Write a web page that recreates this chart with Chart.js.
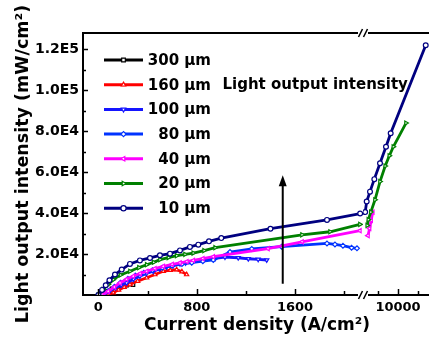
<!DOCTYPE html>
<html><head><meta charset="utf-8">
<script src="https://cdn.jsdelivr.net/npm/chart.js@4/dist/chart.umd.min.js"></script>
<style>html,body{margin:0;padding:0;background:#fff;}canvas{display:block;}</style>
</head><body>
<canvas id="c" width="429" height="344"></canvas>
<script>
// ---- data (A/cm², mW/cm²) ----
const seriesLabels = ['300 µm', '160 µm', '100 µm', '80 µm', '40 µm', '20 µm', '10 µm'];

const x300 = [30, 70, 110, 150, 190, 230, 282];
const y300 = [0, 1800, 3000, 3800, 4400, 4800, 5000];

const x160 = [40, 80, 121, 165, 210, 257, 320, 393, 460, 528, 585, 637, 680, 718];
const y160 = [0, 600, 1100, 2500, 3800, 5100, 6800, 8400, 10000, 11600, 12100, 12400, 11400, 10000];

const x100 = [40, 90, 140, 185, 230, 285, 338, 390, 447, 500, 555, 610, 664, 710, 759, 850, 950, 1030, 1138, 1220, 1300, 1370];
const y100 = [0, 1800, 3600, 4800, 5900, 7700, 9200, 10500, 11600, 12700, 13700, 14500, 15200, 15700, 16200, 17000, 17900, 18500, 18200, 17700, 17400, 17100];

const x80 = [30, 80, 130, 180, 240, 300, 370, 440, 520, 600, 680, 760, 850, 935, 1071, 1248, 1491, 1860, 1925, 1990, 2060, 2104];
const y80 = [0, 1900, 4000, 6000, 7900, 9500, 10900, 12100, 13300, 14300, 15100, 15800, 16500, 17100, 21000, 22500, 23600, 25200, 24700, 24100, 23100, 22800];

const x40 = [30, 80, 130, 176, 230, 284, 340, 393, 460, 528, 600, 664, 720, 772, 850, 935, 1380, 1657, 2128];
const y40 = [0, 1800, 3900, 5900, 7700, 9200, 10500, 11600, 12900, 14000, 15000, 15700, 16300, 16900, 17800, 18700, 22600, 26000, 31400];

const x20 = [0, 40, 80, 121, 180, 257, 330, 393, 450, 501, 570, 637, 705, 772, 860, 950, 1657, 1885, 2128];
const y20 = [0, 2700, 5200, 7500, 9800, 11600, 13400, 14800, 16000, 17300, 18300, 19200, 19900, 20500, 21700, 23100, 29400, 30900, 34500];

const x10 = [0, 30, 60, 90, 135, 190, 257, 338, 420, 501, 583, 664, 745, 813, 900, 1000, 1400, 1860, 2130];
const y10 = [0, 2500, 4800, 7200, 10000, 12400, 15200, 16900, 18100, 19400, 20200, 21800, 23500, 24600, 26200, 27800, 32400, 36700, 39800];

// high-current segment (after the axis break)
const x40r = [9250, 9290, 9330, 9370];
const y40r = [29000, 32500, 36500, 40500];

const x20r = [9230, 9258, 9320, 9425, 9550, 9680, 9783, 9883, 10200];
const y20r = [34000, 36800, 40500, 46500, 55400, 63000, 68000, 72400, 84000];

const x10r = [9180, 9217, 9300, 9408, 9550, 9700, 9817, 10693];
const y10r = [40500, 45700, 50500, 56600, 64400, 72400, 79000, 122000];

// ticks
const xTicksLeft = [0, 400, 800, 1200, 1600, 2000];
const xTickLabelsLeft = ['0', '', '800', '', '1600', ''];
const xTicksRight = [9500, 10000, 10500];
const xTickLabelsRight = ['', '10000', ''];
const yTicks = [10000, 20000, 30000, 40000, 50000, 60000, 70000, 80000, 90000, 100000, 110000, 120000];
const yTickLabels = ['', '2.0E4', '', '4.0E4', '', '6.0E4', '', '8.0E4', '', '1.0E5', '', '1.2E5'];

const annotationText = 'Light output intensity';
const xTitle = 'Current density (A/cm²)';
const yTitle = 'Light output intensity (mW/cm²)';

// ---- styles ----
const colors = ['#000000', '#ff0000', '#1515ff', '#0033ff', '#ff00ff', '#008000', '#000080'];
const pStyles = ['rect', 'triangle', 'triangle', 'rectRot', 'triangle', 'triangle', 'circle'];
const pRot = [0, 0, 180, 0, 270, 90, 0];
const FONT = 'DejaVu Sans';

const pts = (xs, ys) => xs.map((x, i) => ({x: x, y: ys[i]}));
function ds(i, xs, ys, axis) {
  return {
    label: seriesLabels[i], data: pts(xs, ys), xAxisID: axis, yAxisID: 'y',
    borderColor: colors[i], borderWidth: 2.8, tension: 0,
    pointStyle: pStyles[i], pointRotation: pRot[i], pointRadius: 2.4,
    pointBorderWidth: 1.2, pointBorderColor: colors[i], pointBackgroundColor: '#ffffff',
    order: 20 - i, fill: false
  };
}
const leftX = [x300, x160, x100, x80, x40, x20, x10];
const leftY = [y300, y160, y100, y80, y40, y20, y10];
const datasets = leftX.map((xs, i) => ds(i, xs, leftY[i], 'x'));
datasets.push(ds(4, x40r, y40r, 'x2'));
datasets.push(ds(5, x20r, y20r, 'x2'));
datasets.push(ds(6, x10r, y10r, 'x2'));

function tickCfg(vals, labels) {
  return {
    afterBuildTicks: (s) => { s.ticks = vals.map(v => ({value: v})); },
    ticks: {
      autoSkip: false, maxRotation: 0, padding: 5, color: '#000',
      font: {family: FONT, size: 13, weight: 'bold'},
      callback: (v) => { const k = vals.indexOf(v); return k >= 0 ? labels[k] : ''; }
    }
  };
}

const decor = {
  id: 'decor',
  afterDraw(chart) {
    const ctx = chart.ctx, ca = chart.chartArea;
    const sx = chart.scales.x, sx2 = chart.scales.x2, sy = chart.scales.y;
    const bottom = Math.round(ca.bottom), top = Math.round(ca.top), left = Math.round(ca.left);
    ctx.save();
    ctx.strokeStyle = '#000'; ctx.fillStyle = '#000';
    // top frame line
    ctx.lineWidth = 2;
    ctx.beginPath(); ctx.moveTo(left - 1, top); ctx.lineTo(ca.right, top); ctx.stroke();
    // inward ticks
    ctx.lineWidth = 1.5;
    [[sx, xTicksLeft, xTickLabelsLeft], [sx2, xTicksRight, xTickLabelsRight]].forEach(([s, vals, labs]) => {
      vals.forEach((v, i) => {
        const p = Math.round(s.getPixelForValue(v)) + 0.5;
        const len = labs[i] ? 6 : 4;
        ctx.beginPath(); ctx.moveTo(p, bottom); ctx.lineTo(p, bottom - len); ctx.stroke();
      });
    });
    yTicks.forEach((v, i) => {
      const p = Math.round(sy.getPixelForValue(v)) + 0.5;
      const len = yTickLabels[i] ? 5 : 3;
      ctx.beginPath(); ctx.moveTo(left, p); ctx.lineTo(left + len, p); ctx.stroke();
    });
    // axis breaks
    const bx = sx.right;
    [bottom, top].forEach(yy => {
      ctx.fillStyle = '#fff';
      ctx.fillRect(bx - 5, yy - 1.5, 10, 3);
      ctx.strokeStyle = '#000'; ctx.lineWidth = 1.6;
      [-2.5, 2.5].forEach(d => {
        ctx.beginPath(); ctx.moveTo(bx + d - 2, yy + 4); ctx.lineTo(bx + d + 2, yy - 4); ctx.stroke();
      });
    });
    // arrow
    const ax = sx.getPixelForValue(1500);
    const ay0 = sy.getPixelForValue(5500), ay1 = sy.getPixelForValue(58500);
    ctx.strokeStyle = '#000'; ctx.fillStyle = '#000'; ctx.lineWidth = 2;
    ctx.beginPath(); ctx.moveTo(ax, ay0); ctx.lineTo(ax, ay1 + 8); ctx.stroke();
    ctx.beginPath(); ctx.moveTo(ax, ay1); ctx.lineTo(ax - 4, ay1 + 11); ctx.lineTo(ax + 4, ay1 + 11); ctx.closePath(); ctx.fill();
    // annotation text
    ctx.font = 'bold 15px "' + FONT + '"';
    ctx.textAlign = 'left'; ctx.textBaseline = 'alphabetic';
    ctx.fillText(annotationText, sx.getPixelForValue(1010), sy.getPixelForValue(100500));
    // legend
    const lx0 = 104, lx1 = 143, ly0 = 60, dy = 24.7;
    seriesLabels.forEach((lab, i) => {
      const yy = ly0 + i * dy;
      ctx.strokeStyle = colors[i]; ctx.lineWidth = 3;
      ctx.beginPath(); ctx.moveTo(lx0, yy); ctx.lineTo(lx1, yy); ctx.stroke();
      ctx.fillStyle = '#fff'; ctx.strokeStyle = colors[i]; ctx.lineWidth = 1.2;
      Chart.helpers.drawPoint(ctx, {pointStyle: pStyles[i], rotation: pRot[i], radius: 2.6, borderWidth: 1.2}, (lx0 + lx1) / 2, yy);
      ctx.fillStyle = '#000';
      ctx.font = 'bold 15px "' + FONT + '"';
      ctx.textAlign = 'right'; ctx.textBaseline = 'middle';
      ctx.fillText(lab, 211, yy + 1);
    });
    // x axis title
    ctx.fillStyle = '#000';
    ctx.font = 'bold 17px "' + FONT + '"';
    ctx.textAlign = 'center'; ctx.textBaseline = 'middle';
    ctx.fillText(xTitle, (ca.left + ca.right) / 2 + 1, 326);
    ctx.restore();
  }
};

new Chart(document.getElementById('c'), {
  type: 'line',
  data: {datasets: datasets},
  options: {
    responsive: false, animation: false, devicePixelRatio: 1,
    layout: {autoPadding: false, padding: {top: 33, right: 0, left: 0, bottom: 0}},
    plugins: {legend: {display: false}, tooltip: {enabled: false}},
    scales: {
      x: Object.assign({
        type: 'linear', position: 'bottom', stack: 'xs', stackWeight: 280,
        min: -125, max: 2153,
        grid: {display: false, drawTicks: false},
        border: {display: true, color: '#000', width: 2},
        afterFit: (s) => { s.height = 49; }
      }, tickCfg(xTicksLeft, xTickLabelsLeft)),
      x2: Object.assign({
        type: 'linear', position: 'bottom', stack: 'xs', stackWeight: 66,
        min: 9125, max: 10775,
        grid: {display: false, drawTicks: false},
        border: {display: true, color: '#000', width: 2},
        afterFit: (s) => { s.height = 49; }
      }, tickCfg(xTicksRight, xTickLabelsRight)),
      y: {
        type: 'linear', position: 'left', min: 0, max: 128000,
        grid: {display: false, drawTicks: false},
        border: {display: true, color: '#000', width: 2},
        afterBuildTicks: (s) => { s.ticks = yTicks.map(v => ({value: v})); },
        afterFit: (s) => { s.width = 83; },
        ticks: {
          autoSkip: false, padding: 4, color: '#000',
          font: {family: FONT, size: 14, weight: 'bold'},
          callback: (v) => { const k = yTicks.indexOf(v); return k >= 0 ? yTickLabels[k] : ''; }
        },
        title: {
          display: true, text: yTitle, color: '#000',
          font: {family: FONT, size: 17.5, weight: 'bold'},
          padding: {top: 13, bottom: 0}
        }
      }
    }
  },
  plugins: [decor]
});
</script>
</body></html>
